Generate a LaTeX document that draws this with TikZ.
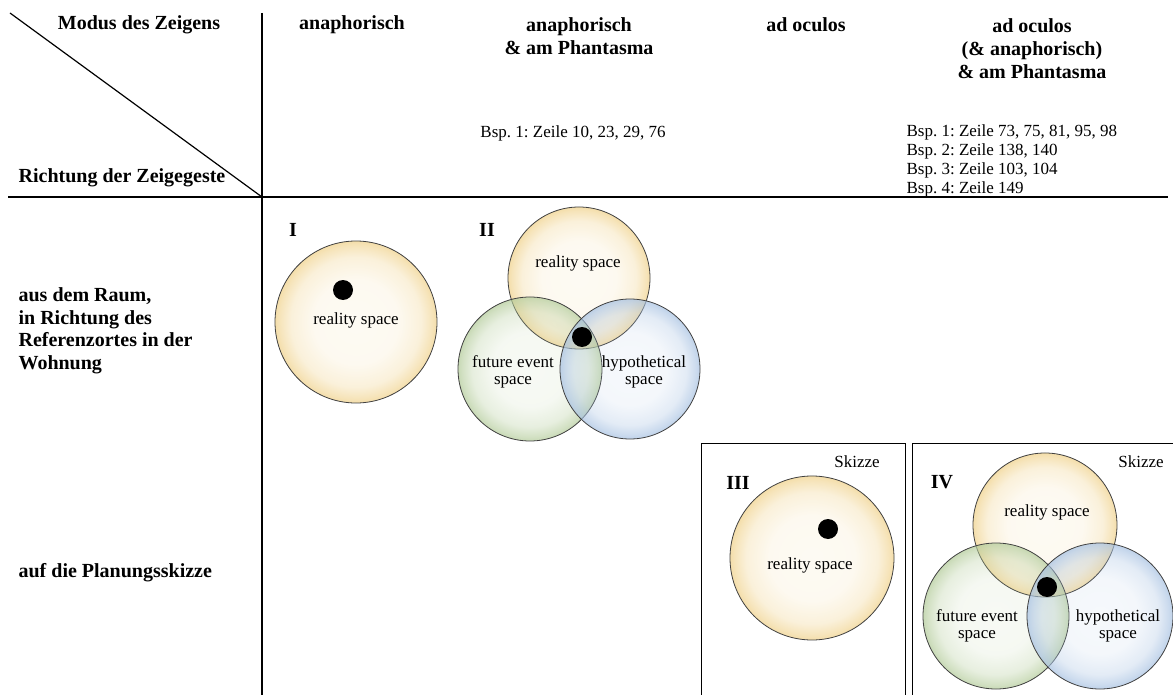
\documentclass[tikz,border=0pt]{standalone}
\usepackage{fontspec}
\setmainfont{Liberation Serif}
\frenchspacing
\usetikzlibrary{positioning}
\usetikzlibrary{shapes, fadings}

\definecolor{ybub}{RGB}{240,210,140}
\definecolor{gbub}{RGB}{180,204,155}
\definecolor{bbub}{RGB}{168,194,226}
\providecolor{pgftransparent}{gray}{0}
% the path fills the middle 50bp of the fading
\pgfdeclareradialshading{bubbleshade}{\pgfpointorigin}{color(0bp)=(pgftransparent!90);
  color(13bp)=(pgftransparent!87); color(20bp)=(pgftransparent!68);
  color(23.5bp)=(pgftransparent!40); color(25bp)=(pgftransparent!25);
  color(50bp)=(pgftransparent!25)}
\pgfdeclarefading{bubblefade}{\pgfuseshading{bubbleshade}}

\begin{document}
\begin{tikzpicture}[x=1pt, y=-1pt, line width=1.2pt]
    \tikzstyle{head} = [font=\fontsize{20}{23}\selectfont\bfseries, align=center,
    inner sep=0pt]
    \tikzstyle{rowlab} = [font=\fontsize{20}{22.5}\selectfont\bfseries, align=left,
    anchor=west, inner sep=0pt]
    \tikzstyle{txt} = [font=\fontsize{17}{17}\selectfont, align=center, inner sep=0pt]
    \tikzstyle{refs} = [font=\fontsize{17}{19}\selectfont, align=left, anchor=west,
    inner sep=0pt]
    \tikzstyle{bubble} = [circle, draw=black!75, line width=0.8pt, inner sep=0pt,
    preaction={fill=#1, path fading=bubblefade}]
    \tikzstyle{dot} = [circle, fill=black, minimum size=20, inner sep=0pt]
    \tikzstyle{panel} = [draw, line width=1pt]
    \useasboundingbox (0,0) rectangle (1173,695);

    % table lines
    \coordinate (tl) at (10,13);
    \coordinate (corner) at (262,197);
    \coordinate (vtop) at (262,13);
    \coordinate (vbot) at (262,700);
    \coordinate (hl) at (8,197);
    \coordinate (hr) at (1168,197);
    \draw (tl) -- (corner);
    \draw (vtop) -- (vbot);
    \draw (hl) -- (hr);

    % headers
    \node [head] (modus) at (139,25) {Modus des Zeigens};
    \node [head] (ana) at (352,25) {anaphorisch};
    \node [head] (anaph) at (579,36.5) {anaphorisch\\\& am Phantasma};
    \node [head] (adoc) at (806,25) {ad oculos};
    \node [head] (adocph) at (1032,48.5) {ad oculos\\(\& anaphorisch)\\\& am Phantasma};
    \node [head] (richtung) at (122,178) {Richtung der Zeigegeste};
    \node [txt] (bspa) at (573,133) {Bsp. 1: Zeile 10, 23, 29, 76};
    \node [refs] (bspb) at (906,160.5) {Bsp. 1: Zeile 73, 75, 81, 95, 98\\
    Bsp. 2: Zeile 138, 140\\Bsp. 3: Zeile 103, 104\\Bsp. 4: Zeile 149};

    % rows
    \node [rowlab] (raum) at (18,331) {aus dem Raum,\\in Richtung des\\
    Referenzortes in der\\Wohnung};
    \node [rowlab] (plan) at (18,573) {auf die Planungsskizze};

    % sketch panels
    \draw [panel] (701,443) rectangle (905,700);
    \draw [panel] (912,443) rectangle (1180,700);

    % I
    \node [head] (numI) at (293,230) {I};
    \node [bubble=ybub, minimum size=162] (realI) at (356,322) {};
    \node [txt] (labI) at (356,320) {reality space};
    \node [dot] (dotI) at (343,290) {};

    % II
    \node [head] (numII) at (487,230) {II};
    \node [bubble=ybub, minimum size=142] (realII) at (579,278) {};
    \node [bubble=gbub, minimum size=144] (futII) at (530,369) {};
    \node [bubble=bbub, minimum size=140] (hypII) at (630,369) {};
    \node [txt] (labrII) at (578,263) {reality space};
    \node [txt] (labfII) at (513,372) {future event\\space};
    \node [txt] (labhII) at (644,372) {hypothetical\\space};
    \node [dot] (dotII) at (582,337) {};

    % III
    \node [head] (numIII) at (738,483) {III};
    \node [txt] (skIII) at (857,462) {Skizze};
    \node [bubble=ybub, minimum size=164] (realIII) at (812,558) {};
    \node [txt] (labIII) at (810,565) {reality space};
    \node [dot] (dotIII) at (828,529) {};

    % IV
    \node [head] (numIV) at (942,482) {IV};
    \node [txt] (skIV) at (1141,462) {Skizze};
    \node [bubble=ybub, minimum size=144] (realIV) at (1045,525) {};
    \node [bubble=gbub, minimum size=146] (futIV) at (996,616) {};
    \node [bubble=bbub, minimum size=146] (hypIV) at (1100,616) {};
    \node [txt] (labrIV) at (1047,512) {reality space};
    \node [txt] (labfIV) at (977,626) {future event\\space};
    \node [txt] (labhIV) at (1118,626) {hypothetical\\space};
    \node [dot] (dotIV) at (1047,587) {};
\end{tikzpicture}
\end{document}
